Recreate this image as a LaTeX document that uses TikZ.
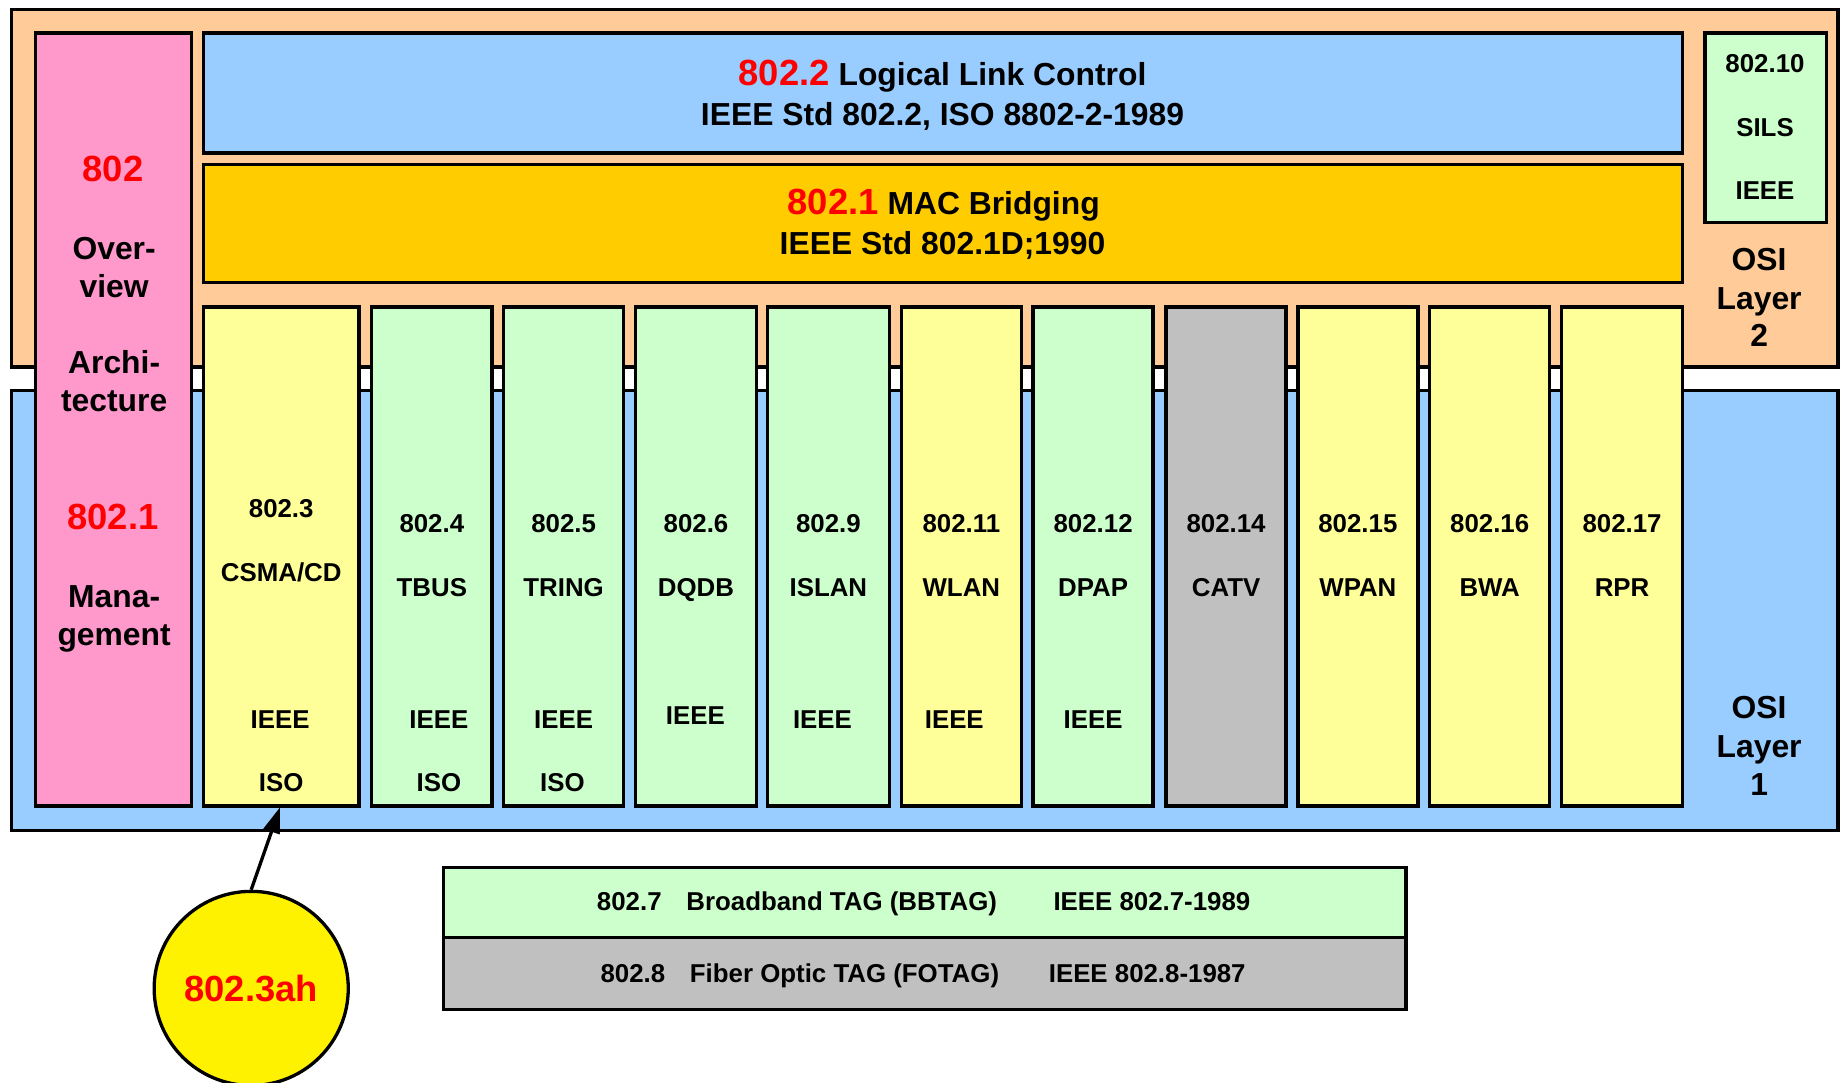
\documentclass[tikz,border=0pt]{standalone}
\usepackage{fontspec}
\setmainfont{Liberation Sans}
\usetikzlibrary{arrows.meta}
\definecolor{peach}{HTML}{FFCC99}
\definecolor{sky}{HTML}{99CCFF}
\definecolor{rose}{HTML}{FF99CC}
\definecolor{gold}{HTML}{FFCC00}
\definecolor{mint}{HTML}{CCFFCC}
\definecolor{lemon}{HTML}{FFFF99}
\definecolor{silver}{HTML}{C0C0C0}
\newcommand\redno[1]{{\color{red}\fontsize{17.6}{21}\selectfont #1}}

\begin{document}
\begin{tikzpicture}[x=0.02cm,y=-0.02cm,
  box/.style={draw=black,line width=1.6pt},
  sm/.style={inner sep=0pt,text height=9pt,text depth=0pt,font=\bfseries\fontsize{12.5}{15}\selectfont},
  md/.style={inner sep=0pt,text height=11pt,text depth=0pt,font=\bfseries\fontsize{15.4}{18}\selectfont},
  hi/.style={inner sep=0pt,text height=12.6pt,text depth=0pt,text=red,font=\bfseries\fontsize{17.6}{21}\selectfont}]
  \useasboundingbox (0,0) rectangle (1568,920);
  \clip (0,0) rectangle (1568,920);
  % OSI layers
  \filldraw[box,fill=peach] (10,8) rectangle (1562,312);
  \filldraw[box,fill=sky] (10,332) rectangle (1562,706);
  \node[md] (l2a) at (1495,220) {OSI};
  \node[md] (l2b) at (1495,253) {Layer};
  \node[md] (l2c) at (1495,285) {2};
  \node[md] (l1a) at (1495,601) {OSI};
  \node[md] (l1b) at (1495,634) {Layer};
  \node[md] (l1c) at (1495,666) {1};
  % 802 overview column
  \filldraw[box,fill=rose] (30,28) rectangle (163,685);
  \node[hi] (ov) at (96,143) {802};
  \node[md] (ova) at (97,211) {Over-};
  \node[md] (ovb) at (97,243) {view};
  \node[md] (ar) at (97,308) {Archi-};
  \node[md] (arb) at (97,340) {tecture};
  \node[hi] (mg) at (96,439) {802.1};
  \node[md] (mga) at (97,507) {Mana-};
  \node[md] (mgb) at (97,539) {gement};
  % LLC and bridging
  \filldraw[box,fill=sky] (173,28) rectangle (1430,130);
  \node[md] (llc) at (801,63) {\redno{802.2} Logical Link Control};
  \node[md] (llcb) at (801,97) {IEEE Std 802.2, ISO 8802-2-1989};
  \filldraw[box,fill=gold] (173,140) rectangle (1430,240);
  \node[md] (mac) at (802,173) {\redno{802.1} MAC Bridging};
  \node[md] (macb) at (801,207) {IEEE Std 802.1D;1990};
  \filldraw[box,fill=mint] (1449,28) rectangle (1552,189);
  \node[sm] (sils) at (1500,54) {802.10};
  \node[sm] (silsb) at (1500,108) {SILS};
  \node[sm] (silsc) at (1500,162) {IEEE};
  % MAC columns
  \filldraw[box,fill=lemon] (173,261) rectangle (305,685);
  \node[sm] (csma) at (239,432) {802.3};
  \node[sm] (csmab) at (239,486) {CSMA/CD};
  \node[sm] (csmac) at (238,611) {IEEE};
  \node[sm] (csmad) at (239,665) {ISO};
  \coordinate (csmabot) at (238,686);
  \foreach \xl/\xr/\col/\num/\name [count=\k] in {316/418/mint/802.4/TBUS, 428/530/mint/802.5/TRING,
      540/643/mint/802.6/DQDB, 652/756/mint/802.9/ISLAN, 766/868/lemon/802.11/WLAN,
      878/980/mint/802.12/DPAP, 991/1093/silver/802.14/CATV, 1103/1205/lemon/802.15/WPAN,
      1215/1317/lemon/802.16/BWA, 1327/1430/lemon/802.17/RPR}{
    \filldraw[box,fill=\col] (\xl,261) rectangle (\xr,685);
    \node[sm] (num\k) at ({(\xl+\xr)/2},445) {\num};
    \node[sm] (nam\k) at ({(\xl+\xr)/2},499) {\name};
  }
  \foreach \x/\y [count=\k] in {373/611, 479/611, 591/608, 699/611, 811/611, 929/611}
    \node[sm] (ieee\k) at (\x,\y) {IEEE};
  \foreach \x [count=\k] in {373, 478}
    \node[sm] (iso\k) at (\x,665) {ISO};
  % TAGs
  \filldraw[box,fill=mint] (377,737) rectangle (1195,797);
  \filldraw[box,fill=silver] (377,797) rectangle (1195,858);
  \node[sm,anchor=west] (bb) at (507,766) {802.7};
  \node[sm,anchor=west] (bbb) at (583,766) {Broadband TAG (BBTAG)};
  \node[sm,anchor=west] (bbc) at (895,766) {IEEE 802.7-1989};
  \node[sm,anchor=west] (fo) at (510,827) {802.8};
  \node[sm,anchor=west] (fob) at (586,827) {Fiber Optic TAG (FOTAG)};
  \node[sm,anchor=west] (foc) at (891,827) {IEEE 802.8-1987};
  % EFM
  \node[circle,draw=black,line width=1.6pt,fill=yellow,minimum size=3.3cm,hi] (efm) at (213.5,840) {802.3ah};
  \draw[line width=1.6pt,-{Triangle[length=0.44cm,width=0.28cm]}] (efm.north) -- (csmabot);
\end{tikzpicture}
\end{document}
